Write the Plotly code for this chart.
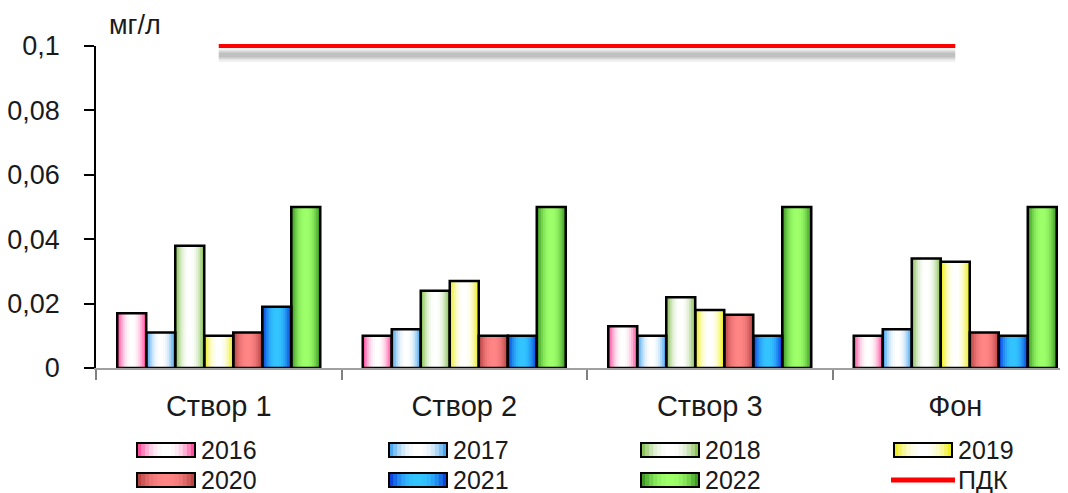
import plotly.graph_objects as go

# ---------------- data ----------------
categories = ["Створ 1", "Створ 2", "Створ 3", "Фон"]
years = ["2016", "2017", "2018", "2019", "2020", "2021", "2022"]
v2016 = [0.017, 0.010, 0.013, 0.010]
v2017 = [0.011, 0.012, 0.010, 0.012]
v2018 = [0.038, 0.024, 0.022, 0.034]
v2019 = [0.010, 0.027, 0.018, 0.033]
v2020 = [0.011, 0.010, 0.0165, 0.011]
v2021 = [0.019, 0.010, 0.010, 0.010]
v2022 = [0.050, 0.050, 0.050, 0.050]
pdk = [0.1, 0.1, 0.1, 0.1]
pdk_name = "ПДК"
unit_label = "мг/л"
y_tick_vals = [0, 0.02, 0.04, 0.06, 0.08, 0.1]
y_tick_text = ["0", "0,02", "0,04", "0,06", "0,08", "0,1"]
y_max = 0.1

series = [v2016, v2017, v2018, v2019, v2020, v2021, v2022]

# ---------------- styles ----------------
edge_colors = ["#ff4f9f", "#4aa6ee", "#8cc25a", "#eeee22", "#b84444", "#0b45dd", "#3f9a26"]
center_colors = ["#ffffff", "#ffffff", "#ffffff", "#ffffff", "#ff8585", "#33c4ff", "#9dff6a"]
layers = [(1.0, 0.0), (0.86, 0.3), (0.72, 0.55), (0.58, 0.75), (0.44, 0.88), (0.30, 0.96), (0.16, 1.0)]
FONT = "Liberation Sans, Arial, sans-serif"
TXT = "#1a1a1a"

OFF = 8                      # page body margin of the browser
W, H = 1068 - OFF, 493 - OFF
PLOT_L, PLOT_T, PLOT_B = 96, 46, 368     # reference pixel positions
EXTRA = 14                   # headroom above the main plot for the unclipped PDK line
ML = PLOT_L - OFF
MT = PLOT_T - OFF - EXTRA
MB = H - (PLOT_B - OFF)
MR = 0
PW = W - ML - MR
PH = PLOT_B - PLOT_T
AREA_H = PH + EXTRA
GROUP_PX = 245.5
GROUP_FRAC = 0.827
bw = GROUP_FRAC / len(years)
x_range = [-0.5, -0.5 + PW / GROUP_PX]


def hex2rgb(h):
    h = h.lstrip("#")
    return tuple(int(h[i:i + 2], 16) for i in (0, 2, 4))


def mix(c1, c2, t):
    a, b = hex2rgb(c1), hex2rgb(c2)
    r = [round(a[k] + (b[k] - a[k]) * t) for k in range(3)]
    return "rgb(%d,%d,%d)" % tuple(r)


def px2paper_x(px):          # px in reference-image coordinates
    return (px - PLOT_L) / PW


def px2paper_y(py):
    return (PLOT_B - py) / AREA_H


fig = go.Figure()

# gradient fills
for i, vals in enumerate(series):
    base_off = -GROUP_FRAC / 2 + i * bw
    for frac, t in layers:
        w = bw * frac
        fig.add_trace(go.Bar(
            x=categories, y=vals, width=w, offset=base_off + (bw - w) / 2,
            marker=dict(color=mix(edge_colors[i], center_colors[i], t), line=dict(width=0)),
            showlegend=False, hoverinfo="skip"))
# outlines
for i, vals in enumerate(series):
    base_off = -GROUP_FRAC / 2 + i * bw
    fig.add_trace(go.Bar(
        x=categories, y=vals, width=bw, offset=base_off, name=years[i],
        marker=dict(color="rgba(0,0,0,0)", line=dict(color="#000000", width=2.5)),
        showlegend=False))

# PDK line with soft shadow, on an overlay subplot with headroom
shadow_dy = 9 * y_max / PH
for wdt, col in [(14, "rgba(170,170,170,0.18)"), (9, "rgba(160,160,160,0.30)"), (5, "rgba(150,150,150,0.35)")]:
    fig.add_trace(go.Scatter(x=categories, y=[v - shadow_dy for v in pdk], mode="lines",
                             line=dict(color=col, width=wdt),
                             xaxis="x2", yaxis="y2", showlegend=False, hoverinfo="skip"))
fig.add_trace(go.Scatter(x=categories, y=pdk, mode="lines", name=pdk_name,
                         line=dict(color="#ff0000", width=4),
                         xaxis="x2", yaxis="y2", showlegend=False))

# ---------------- manual legend ----------------
shapes = []
annotations = []
col_x = [137, 389, 641, 894]
row_y = [450, 480]
sym_w, sym_h = 58, 14
entries = [(years[k], k) for k in range(len(years))] + [(pdk_name, None)]
for n, (label, k) in enumerate(entries):
    cx = col_x[n % 4]
    cy = row_y[n // 4]
    if k is not None:
        for frac, t in layers:
            w = sym_w * frac
            x0 = cx + (sym_w - w) / 2
            shapes.append(dict(type="rect", xref="paper", yref="paper",
                               x0=px2paper_x(x0), x1=px2paper_x(x0 + w),
                               y0=px2paper_y(cy + sym_h / 2), y1=px2paper_y(cy - sym_h / 2),
                               fillcolor=mix(edge_colors[k], center_colors[k], t),
                               line=dict(width=0), layer="above"))
        shapes.append(dict(type="rect", xref="paper", yref="paper",
                           x0=px2paper_x(cx), x1=px2paper_x(cx + sym_w),
                           y0=px2paper_y(cy + sym_h / 2), y1=px2paper_y(cy - sym_h / 2),
                           fillcolor="rgba(0,0,0,0)",
                           line=dict(color="#000000", width=2), layer="above"))
    else:
        shapes.append(dict(type="line", xref="paper", yref="paper",
                           x0=px2paper_x(cx - 3), x1=px2paper_x(cx + sym_w + 3),
                           y0=px2paper_y(cy), y1=px2paper_y(cy),
                           line=dict(color="#ff0000", width=5), layer="above"))
    annotations.append(dict(text=label, xref="paper", yref="paper",
                            x=px2paper_x(cx + sym_w + 4), y=px2paper_y(cy),
                            xanchor="left", yanchor="middle", showarrow=False,
                            font=dict(family=FONT, size=25, color=TXT)))

annotations.append(dict(text=unit_label, xref="paper", yref="paper",
                        x=px2paper_x(107), y=px2paper_y(25),
                        xanchor="left", yanchor="middle", showarrow=False,
                        font=dict(family=FONT, size=27, color=TXT)))

fig.update_layout(
    width=W, height=H,
    margin=dict(l=ML, r=MR, t=MT, b=MB, pad=0),
    paper_bgcolor="white", plot_bgcolor="rgba(0,0,0,0)",
    barmode="overlay",
    showlegend=False,
    separators=", ",
    font=dict(family=FONT, color=TXT),
    shapes=shapes,
    annotations=annotations,
    xaxis=dict(range=x_range, domain=[0, 1],
               showline=True, linecolor="#a0a0a0", linewidth=1.5,
               ticks="outside", tickson="boundaries", ticklen=10,
               tickcolor="#808080", tickwidth=1.5,
               tickfont=dict(family=FONT, size=29, color=TXT),
               ticklabelstandoff=11,
               showgrid=False, zeroline=False, fixedrange=True),
    yaxis=dict(range=[0, y_max], domain=[0, PH / AREA_H],
               tickvals=y_tick_vals, ticktext=y_tick_text,
               showline=True, linecolor="#000000", linewidth=1.5,
               ticks="outside", ticklen=10, tickcolor="#000000", tickwidth=1.5,
               tickfont=dict(family=FONT, size=27, color=TXT),
               ticklabelstandoff=19,
               showgrid=False, zeroline=False, fixedrange=True),
    xaxis2=dict(range=x_range, domain=[0, 1], anchor="y2", overlaying="x",
                visible=False, fixedrange=True),
    yaxis2=dict(range=[0, y_max * AREA_H / PH], domain=[0, 1], anchor="x2",
                visible=False, fixedrange=True),
)

fig.write_html("out.html")
